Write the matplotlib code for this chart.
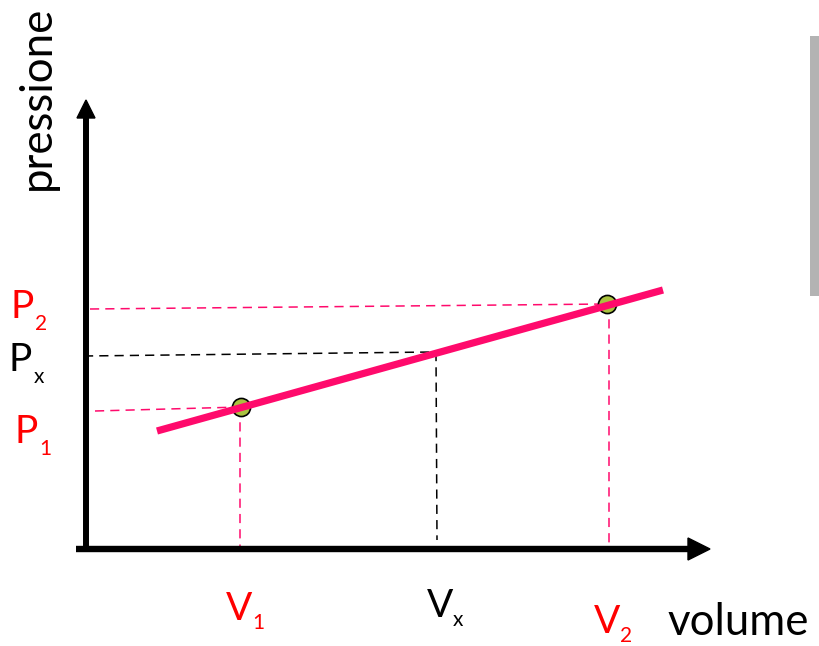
import matplotlib.pyplot as plt
from matplotlib.patches import Rectangle

plt.rcParams['font.family'] = ['Lato', 'DejaVu Sans']

# diagram coordinates (pixel-like units, y grows downward)
line_x = [157, 663]
line_y = [431, 290]
p1 = (241, 407)
p2 = (607, 304)
px = (433, 352)
axis_origin = (86, 549)
x_axis_end = 710
y_axis_end = 100

# labels: (main letter, subscript, colour)
p_labels = [("P", "2", "red"), ("P", "x", "black"), ("P", "1", "red")]
v_labels = [("V", "1", "red"), ("V", "x", "black"), ("V", "2", "red")]

fig = plt.figure(figsize=(8.19, 6.46), dpi=100)
ax = fig.add_axes([0, 0, 1, 1])
ax.set_xlim(0, 819)
ax.set_ylim(646, 0)
ax.axis("off")

pink = "#ff0a6c"
dash = (0, (6, 4))

# dashed guides
ax.plot([90, p2[0]], [309, p2[1]], c=pink, lw=1.1, ls=dash)
ax.plot([p2[0] + 2, p2[0] + 2], [p2[1], 549], c=pink, lw=1.1, ls=dash)
ax.plot([95, p1[0]], [411, p1[1]], c=pink, lw=1.1, ls=dash)
ax.plot([p1[0] - 1, p1[0] - 1], [p1[1], 549], c=pink, lw=1.1, ls=dash)
ax.plot([84, px[0]], [356, px[1]], c="black", lw=1.1, ls=dash)
ax.plot([px[0] + 3, px[0] + 4], [px[1], 540], c="black", lw=1.1, ls=dash)

# axes with arrowheads
ox, oy = axis_origin
ax.plot([76, x_axis_end - 20], [oy, oy], c="black", lw=4.6, solid_capstyle="butt")
ax.fill([x_axis_end - 22, x_axis_end, x_axis_end - 22], [oy - 11, oy, oy + 11], c="black")
ax.plot([ox, ox], [oy, y_axis_end + 16], c="black", lw=4.3, solid_capstyle="butt")
ax.fill([ox - 9, ox, ox + 9], [y_axis_end + 18, y_axis_end, y_axis_end + 18], c="black")

# the straight line and the two points
ax.plot(line_x, line_y, c=pink, lw=5.2, solid_capstyle="butt", zorder=3)
ax.scatter([p1[0], p2[0]], [p1[1], p2[1]], s=170, c="#a9c23f",
           edgecolors="black", linewidths=1.2, zorder=2)

# gray bar at the right edge
ax.add_patch(Rectangle((810, 36), 12, 260, color="#b3b3b3", lw=0))

# P labels
p_pos = [(10, 318), (9, 371), (14, 443)]
for (m, s, c), (x, y) in zip(p_labels, p_pos):
    ax.text(x, y, m, color=c, fontsize=28, va="baseline")
    ax.text(x + 25, y + 12, s, color=c, fontsize=15, va="baseline")

# V labels
v_pos = [(226, 620), (427, 617), (594, 633)]
for (m, s, c), (x, y) in zip(v_labels, v_pos):
    ax.text(x, y, m, color=c, fontsize=28, va="baseline")
    ax.text(x + 26, y + 9, s, color=c, fontsize=15, va="baseline")

ax.text(668, 635, "volume", fontsize=31.5, va="baseline")
ax.text(58, 190, "pressione", fontsize=31.5, rotation=90, va="bottom", ha="right")

plt.savefig("out.png", dpi=100)
